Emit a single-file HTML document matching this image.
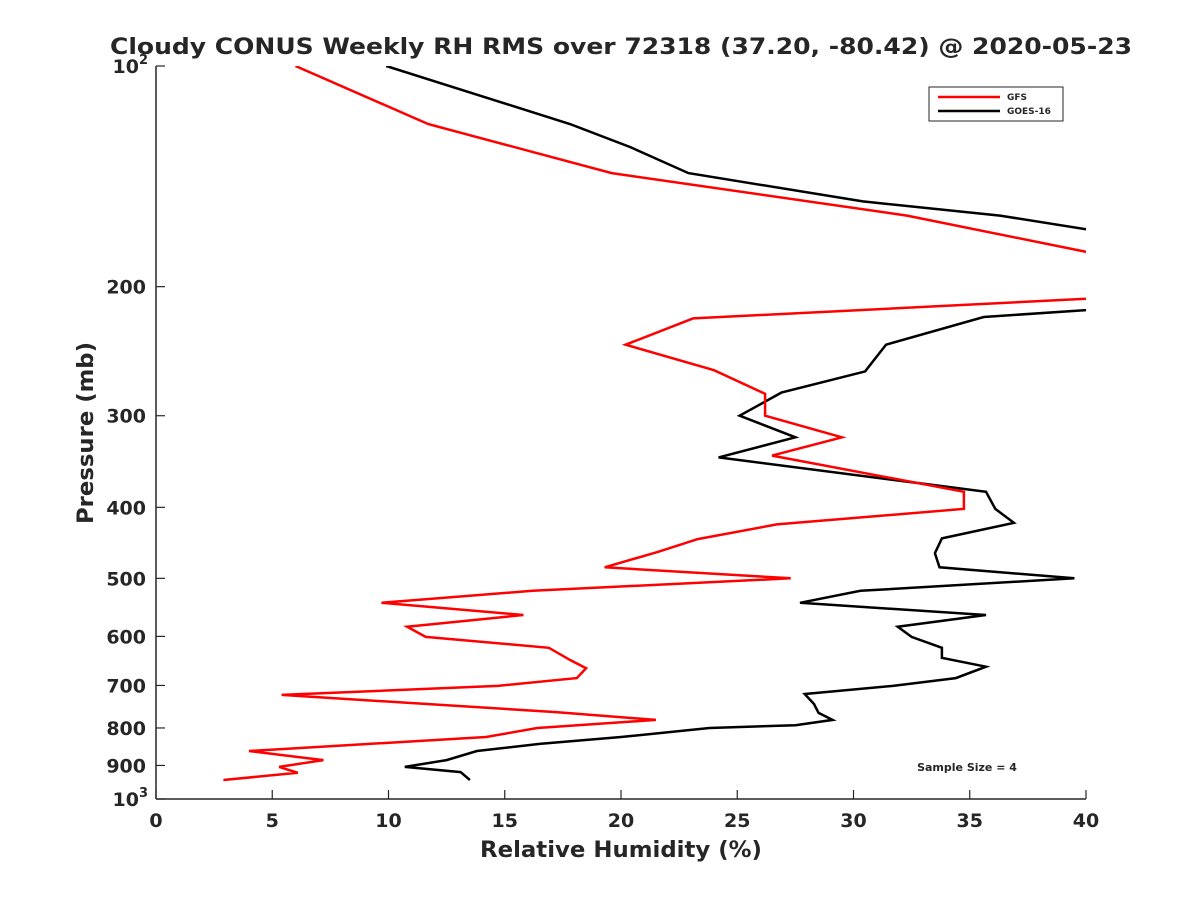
<!DOCTYPE html>
<html><head><meta charset="utf-8"><style>
body{margin:0;background:#fff;}
svg text{font-family:"DejaVu Sans","Liberation Sans",sans-serif;font-weight:bold;fill:#262626;}
</style></head><body>
<svg id="chart" width="1200" height="900" viewBox="0 0 1200 900" xmlns="http://www.w3.org/2000/svg">
<defs><clipPath id="plotclip"><rect x="156" y="66" width="930" height="733"/></clipPath></defs>
<rect width="1200" height="900" fill="#fff"/>
<text x="621" y="54" text-anchor="middle" font-size="22" textLength="1022" lengthAdjust="spacingAndGlyphs">Cloudy CONUS Weekly RH RMS over 72318 (37.20, -80.42) @ 2020-05-23</text>
<g id="axes"></g>
<g id="series" clip-path="url(#plotclip)"></g>
<text x="621" y="857" text-anchor="middle" font-size="22" textLength="282" lengthAdjust="spacingAndGlyphs">Relative Humidity (%)</text>
<text transform="translate(93,433) rotate(-90)" text-anchor="middle" font-size="22" textLength="182" lengthAdjust="spacingAndGlyphs">Pressure (mb)</text>
<g>
<rect x="929" y="87" width="134" height="34" fill="#fff" stroke="#262626" stroke-width="1"/>
<line x1="938" y1="97" x2="1000" y2="97" stroke="#f00" stroke-width="2.5"/>
<text x="1007" y="100" font-size="9">GFS</text>
<line x1="938" y1="111" x2="1000" y2="111" stroke="#000" stroke-width="2.5"/>
<text x="1007" y="114" font-size="9">GOES-16</text>
</g>
<text x="967" y="771" text-anchor="middle" font-size="11">Sample Size = 4</text>
</svg>
<script>
const xTicks=[0,5,10,15,20,25,30,35,40];
const yTicks=[100,200,300,400,500,600,700,800,900,1000];
const gfsRH=[6.0,11.7,19.6,32.3,45,45,23.1,20.2,24.0,26.2,26.2,29.5,26.5,34.75,34.75,26.7,23.3,21.6,19.3,27.3,16.2,9.7,15.8,10.8,11.6,16.9,17.8,18.5,18.1,14.7,5.4,17.2,21.5,16.4,14.2,4.0,7.2,5.3,6.1,2.9];
const gfsP=[100,120,140,160,193,204,221,240,260,280,300,321,340,381,402,422,442,460,483,500,520,540,561,582,601,622,646,663,684,701,721,761,780,800,823,860,885,904,921,942];
const goesRH=[9.9,17.8,20.4,22.9,30.4,36.3,45,45,35.6,31.4,30.5,26.9,25.1,27.5,24.2,35.7,36.1,36.9,33.8,33.5,33.7,39.5,30.3,27.7,35.7,31.9,32.5,33.8,33.8,35.7,34.4,31.7,27.9,28.3,28.5,29.1,27.5,23.8,20.0,16.5,13.8,12.5,10.7,13.1,13.5];
const goesP=[100,120,129,140,153,160,177,210,220,240,261,279,300,321,342,381,402,420,441,462,483,500,520,540,561,582,601,622,642,660,684,701,719,742,763,780,793,800,823,841,860,885,904,919,942];
const X0=156,X1=1086,Y0=66,Y1=799;
const xs=v=>X0+(v/40)*(X1-X0);
const ys=p=>Y0+(Math.log10(p)-2)*(Y1-Y0);
const NS='http://www.w3.org/2000/svg';
const ax=document.getElementById('axes');
function mk(tag,attrs,parent){const e=document.createElementNS(NS,tag);for(const k in attrs)e.setAttribute(k,attrs[k]);parent.appendChild(e);return e;}
const xl=mk('line',{x1:X0,y1:Y1,x2:X1,y2:Y1,stroke:'#262626','stroke-width':1.5},ax);


const yl=mk('line',{x1:X0,y1:Y0,x2:X0,y2:Y1,stroke:'#262626','stroke-width':1.5},ax);


xTicks.forEach(v=>{
  const x=xs(v);
  mk('line',{x1:x,y1:Y1,x2:x,y2:Y1-9,stroke:'#262626','stroke-width':1.2},ax);
  const t=mk('text',{x:x,y:Y1+28,'text-anchor':'middle','font-size':19},ax);
  t.textContent=v;
  
  
});
yTicks.forEach(p=>{
  const y=ys(p);
  mk('line',{x1:X0,y1:y,x2:X0+9,y2:y,stroke:'#262626','stroke-width':1.2},ax);
  const t=mk('text',{x:X0-10,y:y+7,'text-anchor':'end','font-size':19},ax);
  if(p===100||p===1000){
    t.textContent='10';
    const s=mk('tspan',{dy:-9,'font-size':13},t);s.textContent=p===100?'2':'3';
    t.setAttribute('x',X0-8);
  } else t.textContent=p;
  
  
});
const sg=document.getElementById('series');
function drawLine(rh,p,color,name){
  const pts=rh.map((v,i)=>xs(v).toFixed(1)+','+ys(p[i]).toFixed(1)).join(' ');
  const pl=mk('polyline',{points:pts,fill:'none',stroke:color,'stroke-width':2.5,'stroke-linejoin':'miter'},sg);
  
  
}
drawLine(goesRH,goesP,'#000','goes16-line');
drawLine(gfsRH,gfsP,'#f00','gfs-line');
</script>
</body></html>
